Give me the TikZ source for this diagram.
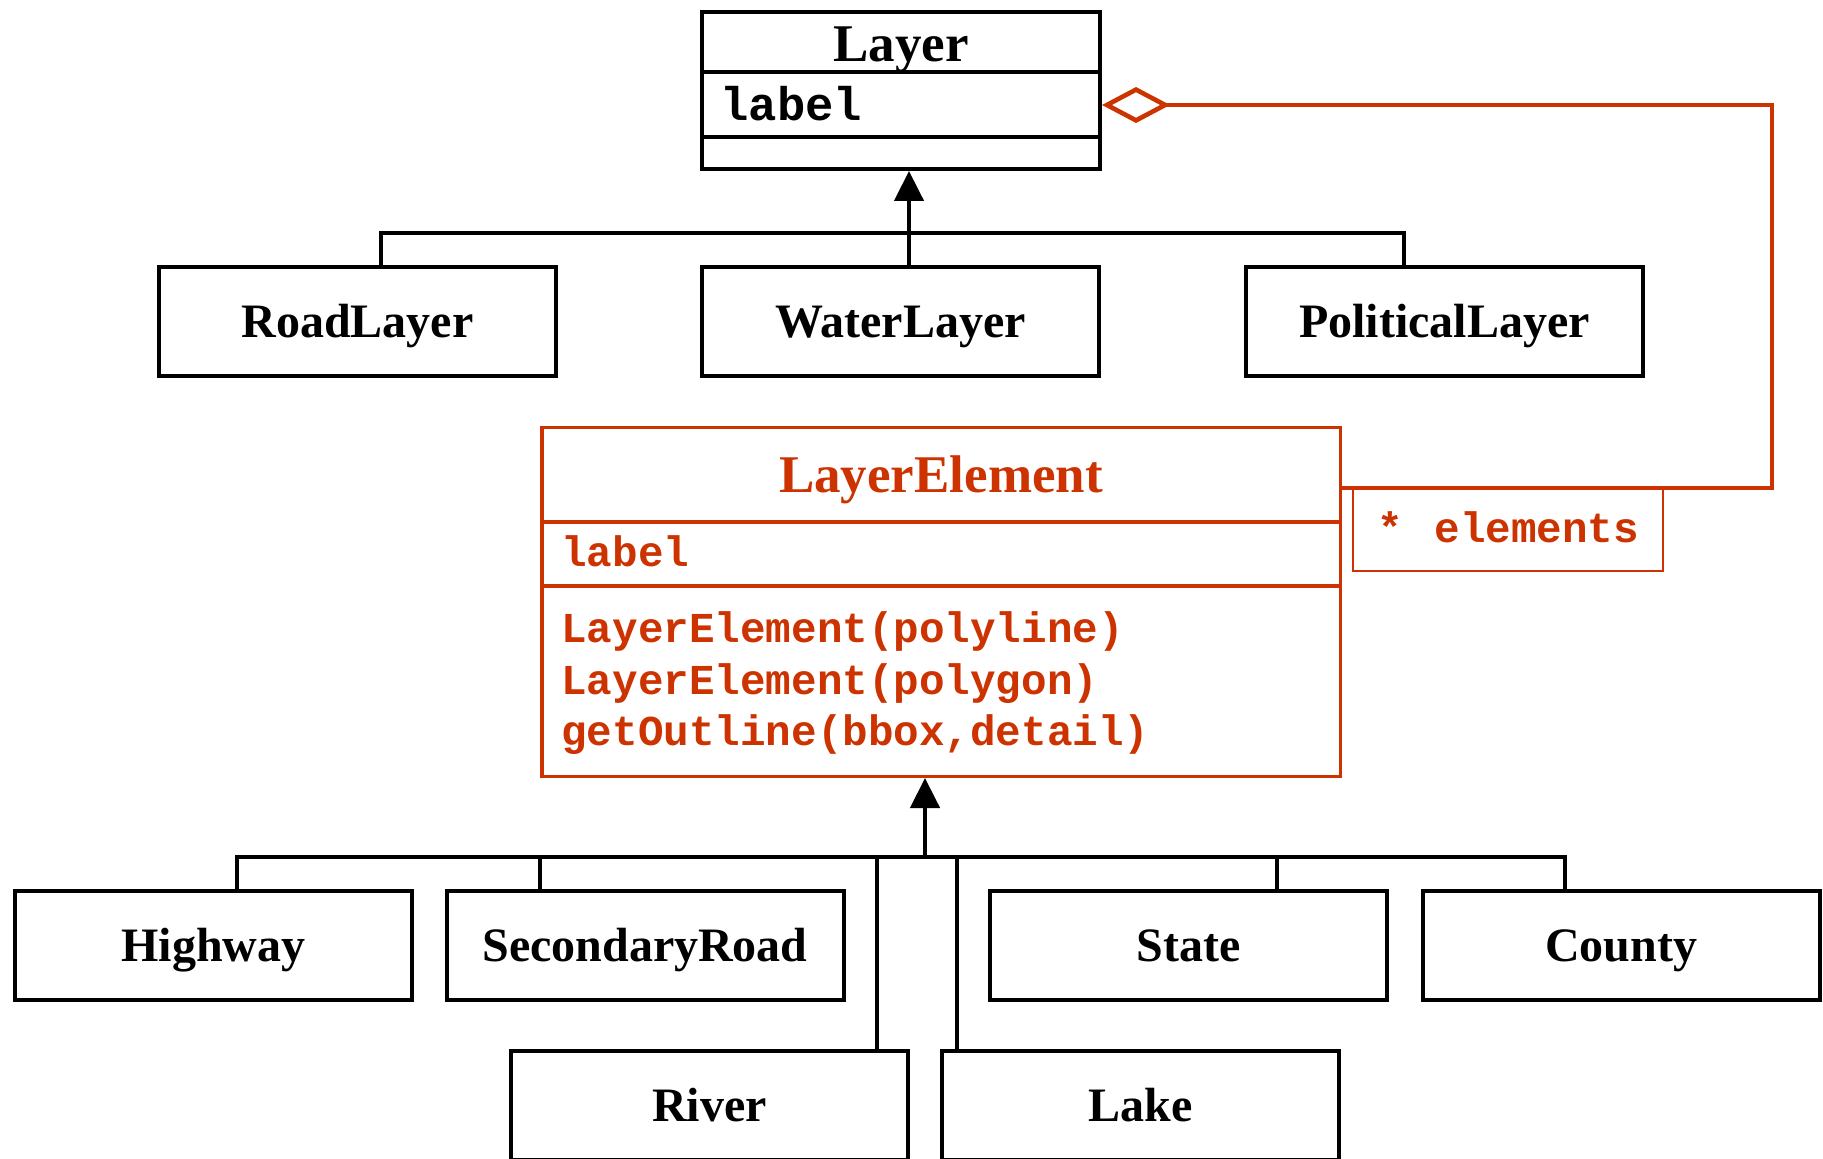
\documentclass[tikz,border=0pt]{standalone}
\usepackage{fontspec}
\setmainfont{Liberation Serif}
\setmonofont{Liberation Mono}
\usetikzlibrary{arrows.meta,calc}
\definecolor{umlred}{RGB}{204,51,0}
\begin{document}
\begin{tikzpicture}[x=0.5pt,y=-0.5pt,
  box/.style={draw, line width=2pt, inner sep=0pt, minimum width=198.5pt,
    minimum height=54.5pt, font=\bfseries\fontsize{24}{24}\selectfont,
    text height=15.9pt, text depth=0pt},
  frame/.style={draw, line width=2pt, inner sep=0pt},
  title/.style={anchor=base, inner sep=0pt, font=\bfseries\fontsize{26.5}{26.5}\selectfont},
  member/.style={anchor=base west, inner sep=0pt, font=\ttfamily\bfseries\fontsize{21.3}{21.3}\selectfont},
  conn/.style={line width=2.3pt},
  gen/.style={conn, -{Triangle[length=15pt,width=14.5pt]}},
  redconn/.style={umlred, line width=2.3pt},
]
\useasboundingbox (0,0) rectangle (1823,1159);
\clip (0,0) rectangle (1823,1159);
\fill[white] (0,0) rectangle (1823,1159);

% ---- class Layer ----
\node[frame, minimum width=199pt, minimum height=78.5pt] (layer) at (901,90.5) {};
\draw[line width=2pt] (layer.west |- 0,72) -- (layer.east |- 0,72);
\draw[line width=2pt] (layer.west |- 0,137) -- (layer.east |- 0,137);
\node[title] (layertitle) at (901,62) {Layer};
\node[member, font=\ttfamily\bfseries\fontsize{23.6}{23.6}\selectfont] (layerlabel) at (720,121) {label};

% ---- Layer subclasses ----
\node[box] (road) at (357.5,321.5) {RoadLayer};
\node[box] (water) at (900.5,321.5) {WaterLayer};
\node[box] (political) at (1444.5,321.5) {PoliticalLayer};

\coordinate (tjR) at (381,233);
\coordinate (tjW) at (909,233);
\coordinate (tjP) at (1404,233);
\draw[conn] (tjR |- road.north) -- (tjR) -- (tjP) -- (tjP |- political.north);
\draw[gen] (tjW |- water.north) -- (tjW |- layer.south);

% ---- class LayerElement ----
\node[frame, draw=umlred, line width=1.75pt, minimum width=399.25pt, minimum height=174.25pt] (elem) at (941,602) {};
\draw[umlred, line width=1.75pt] (elem.west |- 0,522) -- (elem.east |- 0,522);
\draw[umlred, line width=1.75pt] (elem.west |- 0,586) -- (elem.east |- 0,586);
\node[title, umlred] (elemtitle) at (941,493) {LayerElement};
\node[member, umlred] (elemlabel) at (561,567) {label};
\node[member, umlred] (op1) at (561,642) {LayerElement(polyline)};
\node[member, umlred] (op2) at (561,694) {LayerElement(polygon)};
\node[member, umlred] (op3) at (561,745) {getOutline(bbox,detail)};

% ---- aggregation Layer <>-- LayerElement ----
\coordinate (rtop) at (1772,105);
\coordinate (rbot) at (1772,488);
\draw[redconn, {Diamond[open,length=34pt,width=18pt]}-] (layer.east |- rtop) -- (rtop) -- (rbot) -- (rbot -| elem.east);
\node[draw=umlred, line width=1.1pt, inner sep=0pt, minimum width=155pt, minimum height=41.5pt] (mult) at (1508,529.5) {};
\node[member, umlred] (multtext) at (1377,543) {*\hspace{3pt} elements};

% ---- LayerElement subclasses ----
\node[box] (highway) at (213.5,945.5) {Highway};
\node[box] (secondary) at (645,945.5) {SecondaryRoad};
\node[box] (state) at (1188.5,945.5) {State};
\node[box] (county) at (1621,945.5) {County};
\node[box] (river) at (709.5,1105.5) {River};
\node[box] (lake) at (1140.5,1105.5) {Lake};

\coordinate (bh) at (237,857);
\coordinate (bs) at (540,857);
\coordinate (br) at (877,857);
\coordinate (ba) at (925,857);
\coordinate (bl) at (957,857);
\coordinate (bst) at (1277,857);
\coordinate (bc) at (1565,857);
\draw[conn] (bh |- highway.north) -- (bh) -- (bc) -- (bc |- county.north);
\draw[conn] (bs) -- (bs |- secondary.north);
\draw[conn] (bst) -- (bst |- state.north);
\draw[conn] (br) -- (br |- river.north);
\draw[conn] (bl) -- (bl |- lake.north);
\draw[gen] (ba) -- (ba |- elem.south);
\end{tikzpicture}
\end{document}
